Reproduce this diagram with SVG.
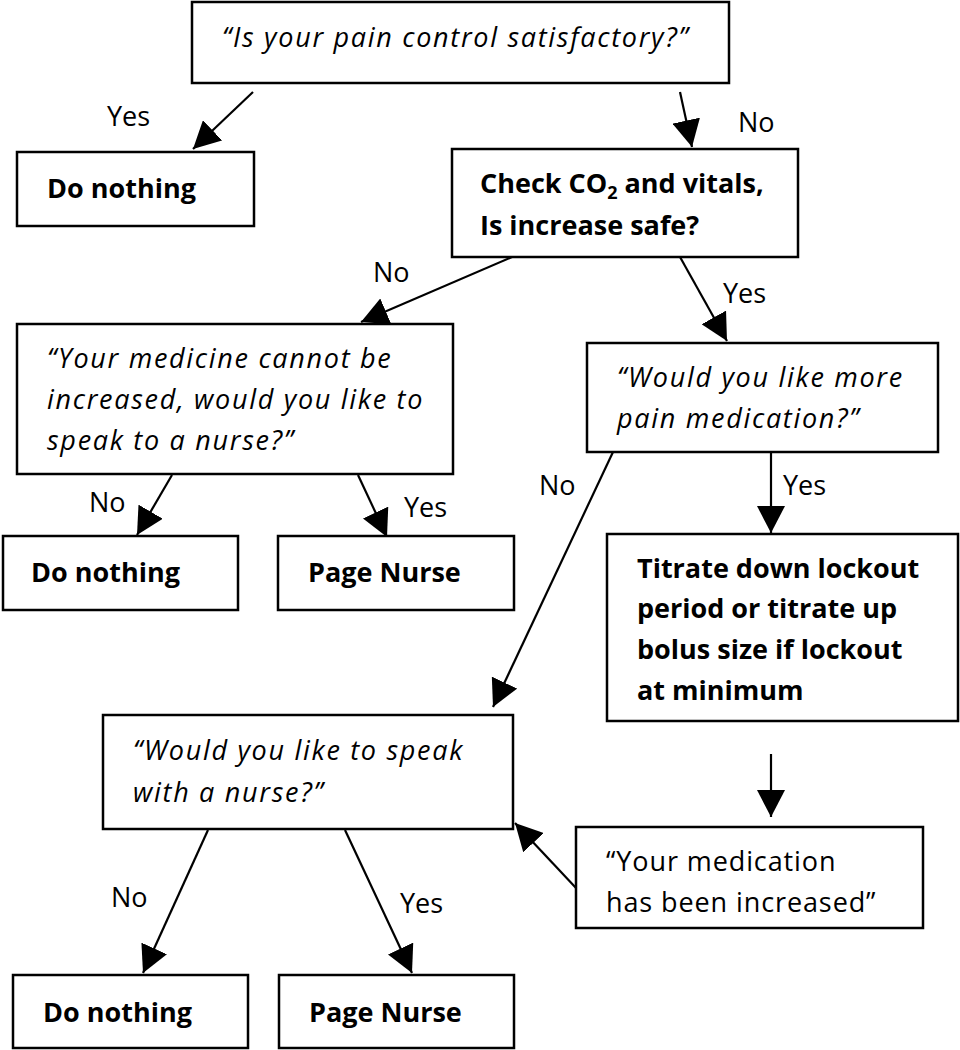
<svg xmlns="http://www.w3.org/2000/svg" width="960" height="1050" viewBox="0 0 960 1050">
<style>
.box{fill:#fff;stroke:#000;stroke-width:2.5}
text{font-family:"Open Sans","Liberation Sans",sans-serif;font-size:27px;fill:#000}
.b{font-weight:bold}
.i{font-style:italic;letter-spacing:1.7px}
.r{letter-spacing:0.9px}
.edge{stroke:#000;stroke-width:2.2;fill:none;marker-end:url(#ah)}
</style>
<defs>
<marker id="ah" markerUnits="userSpaceOnUse" markerWidth="28" markerHeight="28" refX="27" refY="14" orient="auto">
<path d="M0,0 L27,14 L0,28 z" fill="#000"/>
</marker>
</defs>
<rect width="960" height="1050" fill="#fff"/>
<g id="connectors">
<line class="edge" x1="253" y1="92" x2="193" y2="149"/>
<line class="edge" x1="680" y1="92" x2="692" y2="147"/>
<line class="edge" x1="512" y1="257" x2="361" y2="322"/>
<line class="edge" x1="680" y1="257" x2="727" y2="341"/>
<line class="edge" x1="172" y1="475" x2="137" y2="535"/>
<line class="edge" x1="358" y1="475" x2="387" y2="537"/>
<line class="edge" x1="771" y1="452" x2="771" y2="533"/>
<line class="edge" x1="613" y1="452" x2="493" y2="707"/>
<line class="edge" x1="771" y1="754" x2="771" y2="817"/>
<line class="edge" x1="576" y1="888" x2="515" y2="823"/>
<line class="edge" x1="208" y1="830" x2="143" y2="973"/>
<line class="edge" x1="345" y1="830" x2="412" y2="973"/>
<text x="107" y="126">Yes</text>
<text x="738" y="132">No</text>
<text x="373" y="282">No</text>
<text x="723" y="303">Yes</text>
<text x="89" y="512">No</text>
<text x="404" y="517">Yes</text>
<text x="539" y="495">No</text>
<text x="783" y="495">Yes</text>
<text x="111" y="907">No</text>
<text x="400" y="913">Yes</text>
</g>
<g id="q-pain-control">
<rect class="box" x="192" y="2" width="537" height="81"/>
<text class="i" x="222" y="47">“Is your pain control satisfactory?”</text>
</g>
<g id="do-nothing-1">
<rect class="box" x="17" y="152" width="237" height="74"/>
<text class="b" x="47" y="198">Do nothing</text>
</g>
<g id="check-co2">
<rect class="box" x="452" y="149" width="346" height="108"/>
<text class="b" x="480" y="193">Check CO<tspan font-size="18" dy="6">2</tspan><tspan dy="-6"> and vitals,</tspan></text>
<text class="b" x="480" y="235">Is increase safe?</text>
</g>
<g id="cannot-increase">
<rect class="box" x="17" y="324" width="436" height="150"/>
<text class="i" x="47" y="368">“Your medicine cannot be</text>
<text class="i" x="47" y="409">increased, would you like to</text>
<text class="i" x="47" y="450">speak to a nurse?”</text>
</g>
<g id="more-medication">
<rect class="box" x="587" y="343" width="351" height="109"/>
<text class="i" x="617" y="387">“Would you like more</text>
<text class="i" x="617" y="428">pain medication?”</text>
</g>
<g id="do-nothing-2">
<rect class="box" x="3" y="536" width="235" height="74"/>
<text class="b" x="31" y="582">Do nothing</text>
</g>
<g id="page-nurse-1">
<rect class="box" x="278" y="536" width="236" height="74"/>
<text class="b" x="308" y="582">Page Nurse</text>
</g>
<g id="titrate">
<rect class="box" x="607" y="534" width="351" height="187"/>
<text class="b" x="637" y="578">Titrate down lockout</text>
<text class="b" x="637" y="618">period or titrate up</text>
<text class="b" x="637" y="659">bolus size if lockout</text>
<text class="b" x="637" y="700">at minimum</text>
</g>
<g id="speak-nurse">
<rect class="box" x="103" y="715" width="410" height="114"/>
<text class="i" x="133" y="760">“Would you like to speak</text>
<text class="i" x="133" y="802">with a nurse?”</text>
</g>
<g id="med-increased">
<rect class="box" x="576" y="827" width="347" height="101"/>
<text class="r" x="606" y="871">“Your medication</text>
<text class="r" x="606" y="912">has been increased”</text>
</g>
<g id="do-nothing-3">
<rect class="box" x="13" y="975" width="235" height="73"/>
<text class="b" x="43" y="1022">Do nothing</text>
</g>
<g id="page-nurse-2">
<rect class="box" x="279" y="975" width="235" height="73"/>
<text class="b" x="309" y="1022">Page Nurse</text>
</g>
</svg>
